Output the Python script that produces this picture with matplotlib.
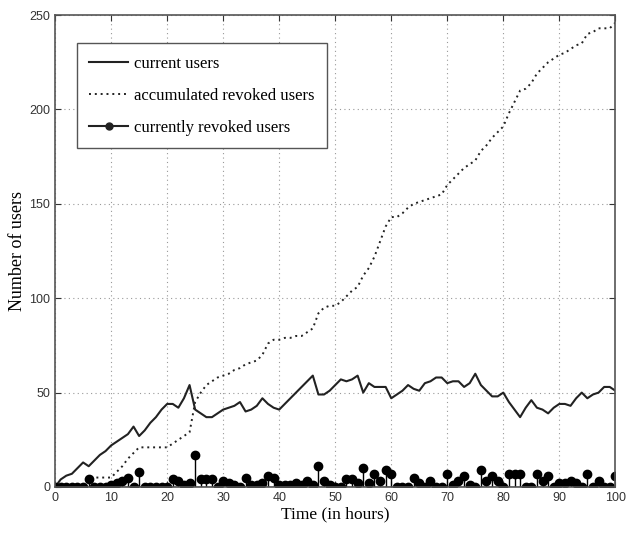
import numpy as np
import matplotlib
matplotlib.use("Agg")
import matplotlib.pyplot as plt
from matplotlib.lines import Line2D
from matplotlib.legend_handler import HandlerLine2D

# hours 0..100
hours = list(range(101))

# current users, read hour by hour off the picture
current_users = [
    0, 4, 6, 7, 10, 13, 11, 14, 17, 19,
    22, 24, 26, 28, 32, 27, 30, 34, 37, 41,
    44, 44, 42, 47, 54, 41, 39, 37, 37, 39,
    41, 42, 43, 45, 40, 41, 43, 47, 44, 42,
    41, 44, 47, 50, 53, 56, 59, 49, 49, 51,
    54, 57, 56, 57, 59, 50, 55, 53, 53, 53,
    47, 49, 51, 54, 52, 51, 55, 56, 58, 58,
    55, 56, 56, 53, 55, 60, 54, 51, 48, 48,
    50, 45, 41, 37, 42, 46, 42, 41, 39, 42,
    44, 44, 43, 47, 50, 47, 49, 50, 53, 53,
    51,
]

# accumulated revoked users
accumulated_revoked = [
    0, 0, 0, 0, 0, 0, 5, 5, 5, 5,
    5, 8, 11, 15, 18, 21, 21, 21, 21, 21,
    21, 23, 25, 27, 29, 45, 50, 54, 56, 58,
    59, 60, 62, 63, 65, 66, 67, 70, 76, 78,
    78, 79, 79, 80, 80, 82, 84, 92, 95, 96,
    96, 98, 101, 104, 106, 112, 116, 122, 130, 138,
    143, 143, 145, 148, 150, 151, 152, 153, 154, 155,
    160, 163, 166, 169, 171, 173, 178, 181, 185, 188,
    191, 198, 204, 210, 211, 214, 219, 222, 225, 227,
    229, 230, 232, 234, 235, 240, 241, 243, 243, 243,
    246,
]

# currently revoked users (stems)
currently_revoked = [
    0, 0, 0, 0, 0, 0, 4, 0, 0, 0,
    1, 2, 3, 5, 0, 8, 0, 0, 0, 0,
    0, 4, 3, 1, 2, 17, 4, 4, 4, 0,
    3, 2, 1, 0, 5, 1, 1, 2, 6, 5,
    1, 1, 1, 2, 1, 3, 1, 11, 3, 1,
    0, 0, 4, 4, 2, 10, 2, 7, 3, 9,
    7, 0, 0, 0, 5, 2, 0, 3, 0, 0,
    7, 1, 3, 6, 1, 0, 9, 3, 6, 3,
    0, 7, 7, 7, 0, 0, 7, 3, 6, 0,
    2, 2, 3, 2, 0, 7, 0, 3, 0, 0,
    6,
]

x_ticks = list(range(0, 101, 10))
y_ticks = list(range(0, 251, 50))


class StemHandler(HandlerLine2D):
    # put the legend marker at the right end of the line, like matlab stem
    def get_xdata(self, legend, xdescent, ydescent, width, height, fontsize):
        xdata, _ = super().get_xdata(legend, xdescent, ydescent, width, height, fontsize)
        return xdata, [xdata[-1]]


fig = plt.figure(figsize=(6.26, 5.39), dpi=100)
ax = fig.add_axes([0.088, 0.0965, 0.895, 0.8755])

ax.plot(hours, current_users, color="#222222", lw=1.5, label="current users")
ax.plot(hours, accumulated_revoked, color="#222222", lw=1.4,
        linestyle=(0, (1, 2)), label="accumulated revoked users")
markerline, stemlines, baseline = ax.stem(hours, currently_revoked,
                                          linefmt="k-", markerfmt="ko", basefmt="k-")
markerline.set_markersize(6)
stemlines.set_linewidth(1.0)
baseline.set_linewidth(1.0)

ax.set_xlim(0, 100)
ax.set_ylim(0, 250)
ax.set_xticks(x_ticks)
ax.set_yticks(y_ticks)
ax.grid(True, color="#999999", linestyle=(0, (1, 3)), lw=0.8)
ax.tick_params(direction="in", top=True, right=True, length=4,
               labelsize=9, colors="#333333")
for lab in ax.get_xticklabels() + ax.get_yticklabels():
    lab.set_family("Liberation Sans")
for sp in ax.spines.values():
    sp.set_color("#555555")
    sp.set_linewidth(1.2)

ax.set_xlabel("Time (in hours)", family="Liberation Serif", fontsize=12.5, labelpad=2)
ax.set_ylabel("Number of users", family="Liberation Serif", fontsize=13, labelpad=2)

h1 = Line2D([], [], color="#222222", lw=1.5)
h2 = Line2D([], [], color="#222222", lw=1.4, linestyle=(0, (1, 2)))
h3 = Line2D([], [], color="#222222", lw=1.5, marker="o", markersize=5)
leg = ax.legend([h1, h2, h3],
                ["current users", "accumulated revoked users", "currently revoked users"],
                handler_map={h3: StemHandler(numpoints=1)},
                loc="upper left", bbox_to_anchor=(0.039, 0.94), borderaxespad=0,
                prop={"family": "Liberation Serif", "size": 12},
                fancybox=False, framealpha=1, edgecolor="#555555",
                borderpad=0.75, labelspacing=0.95, handlelength=2.3, handletextpad=0.4)
leg.get_frame().set_linewidth(1.0)

fig.savefig("out.png", dpi=100)
